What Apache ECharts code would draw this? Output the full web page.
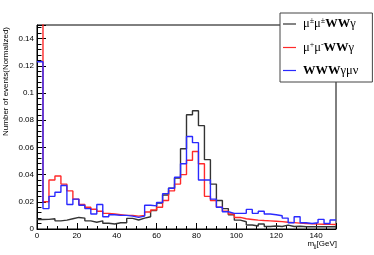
<!DOCTYPE html>
<html>
<head>
<meta charset="utf-8">
<script src="https://cdn.jsdelivr.net/npm/echarts@6/dist/echarts.min.js"></script>
<style>
html, body { margin: 0; padding: 0; background: #fff; }
#chart { width: 374px; height: 255px; }
</style>
</head>
<body>
<div id="chart"></div>
<script>
// bin edges of m_jj [GeV], 3 GeV bins
var binEdges = [0, 3, 6, 9, 12, 15, 18, 21, 24, 27, 30, 33, 36, 39, 42, 45, 48, 51, 54, 57,
  60, 63, 66, 69, 72, 75, 78, 81, 84, 87, 90, 93, 96, 99, 102, 105, 108, 111, 114, 117,
  120, 123, 126, 129, 132, 135, 138, 141, 144, 147, 150]

var xTicks = [0, 20, 40, 60, 80, 100, 120, 140]
var yTicks = [0, 0.02, 0.04, 0.06, 0.08, 0.1, 0.12, 0.14]

// mu+- mu+- WW gamma
var ssWWa = [0.007, 0.0071, 0.0075, 0.006, 0.0065, 0.0075, 0.0085, 0.008, 0.006, 0.005,
  0.006, 0.0042, 0.0037, 0.0046, 0.0046, 0.0078, 0.0066, 0.008, 0.009, 0.0135,
  0.019, 0.025, 0.03, 0.0375, 0.059, 0.084, 0.087, 0.076, 0.051, 0.033,
  0.021, 0.015, 0.0105, 0.0065, 0.0053, 0.0029, 0.0022, 0.0037, 0.0018, 0.0022,
  0.0018, 0.0029, 0.0018, 0.002, 0.0017, 0.0017, 0.0017, 0.0017, 0.0017, 0.0017]

// mu+ mu- WW gamma
var osWWa = [0.2, 0.02, 0.036, 0.039, 0.033, 0.028, 0.022, 0.018, 0.016, 0.0145,
  0.013, 0.0115, 0.011, 0.0105, 0.01, 0.01, 0.0095, 0.01, 0.0125, 0.014,
  0.016, 0.021, 0.028, 0.033, 0.04, 0.0505, 0.057, 0.048, 0.024, 0.021,
  0.016, 0.013, 0.011, 0.0085, 0.0075, 0.007, 0.0065, 0.0062, 0.006, 0.0057,
  0.0054, 0.005, 0.0047, 0.0043, 0.004, 0.0038, 0.0036, 0.0035, 0.0034, 0.0033]

// WWW gamma mu nu
var wwwamv = [0.123, 0.015, 0.024, 0.027, 0.032, 0.018, 0.022, 0.0175, 0.015, 0.011,
  0.018, 0.009, 0.0105, 0.01, 0.01, 0.0095, 0.0085, 0.0095, 0.0175, 0.017,
  0.0195, 0.026, 0.03, 0.038, 0.048, 0.068, 0.0635, 0.036, 0.036, 0.022,
  0.016, 0.0127, 0.0115, 0.0115, 0.0115, 0.0144, 0.0115, 0.013, 0.011, 0.0105,
  0.0097, 0.008, 0.0046, 0.009, 0.0046, 0.004, 0.0046, 0.0071, 0.004, 0.0066]

var names = ['μ±μ±WWγ', 'μ+μ-WWγ', 'WWWγμν']
var richNames = {
  'μ±μ±WWγ': '{n|μ}{s|±}{n|μ}{s|±}{b|WW}{n|γ}',
  'μ+μ-WWγ': '{n|μ}{s|+}{n|μ}{s|-}{b|WW}{n|γ}',
  'WWWγμν': '{b|WWW}{n|γμν}'
}

function toSteps (vals) {
  var pts = []
  for (var i = 0; i < vals.length; i++) {
    pts.push([binEdges[i], vals[i]])
  }
  pts.push([binEdges[vals.length], vals[vals.length - 1]])
  return pts
}

function histSeries (name, vals, color) {
  return {
    name: name,
    type: 'line',
    step: 'end',
    symbol: 'none',
    clip: true,
    data: toSteps(vals),
    lineStyle: { color: color, width: 1.4 },
    itemStyle: { color: color }
  }
}

var chart = echarts.init(document.getElementById('chart'))
var labelFont = { fontFamily: 'Liberation Sans', fontSize: 8, color: '#000' }

chart.setOption({
  animation: false,
  backgroundColor: '#fff',
  grid: {
    left: 37, right: 38, top: 25, bottom: 26,
    show: true, borderColor: '#000', borderWidth: 1, backgroundColor: 'transparent'
  },
  xAxis: {
    type: 'value',
    min: 0,
    max: 150,
    interval: xTicks[1] - xTicks[0],
    axisLine: { show: true, onZero: false, lineStyle: { color: '#000', width: 1 } },
    axisTick: { show: true, inside: true, length: 6, lineStyle: { color: '#000' } },
    minorTick: { show: true, splitNumber: 4, length: 3, lineStyle: { color: '#000' } },
    splitLine: { show: false },
    axisLabel: Object.assign({ margin: 3, showMaxLabel: false }, labelFont)
  },
  yAxis: {
    type: 'value',
    min: 0,
    max: 0.15,
    interval: yTicks[1] - yTicks[0],
    axisLine: { show: true, lineStyle: { color: '#000', width: 1 } },
    axisTick: { show: true, inside: true, length: 9, lineStyle: { color: '#000' } },
    minorTick: { show: true, splitNumber: 5, length: 4.5, lineStyle: { color: '#000' } },
    splitLine: { show: false },
    axisLabel: Object.assign({
      margin: 3,
      showMaxLabel: false,
      formatter: function (v) { return String(+v.toFixed(2)) }
    }, labelFont)
  },
  legend: {
    orient: 'vertical',
    left: 280,
    top: 13,
    padding: [4, 14, 5, 3],
    itemGap: 10,
    itemWidth: 13,
    itemHeight: 1.2,
    icon: 'rect',
    lineStyle: { width: 1.2 },
    backgroundColor: '#fff',
    borderColor: '#444',
    borderWidth: 1,
    data: names,
    formatter: function (name) { return richNames[name] },
    textStyle: {
      padding: [0, 0, 0, 2],
      rich: {
        n: { fontFamily: 'Liberation Serif', fontSize: 12.5, color: '#000', lineHeight: 14 },
        b: { fontFamily: 'Liberation Serif', fontSize: 12.5, fontWeight: 'bold', color: '#000', lineHeight: 14 },
        s: { fontFamily: 'Liberation Serif', fontSize: 8, color: '#000', lineHeight: 14, verticalAlign: 'top' }
      }
    }
  },
  graphic: [
    {
      type: 'text',
      x: 6,
      y: 27,
      rotation: Math.PI / 2,
      style: {
        text: 'Number of events(Normalized)',
        font: '8px "Liberation Sans"',
        fill: '#000',
        align: 'right',
        verticalAlign: 'middle'
      }
    },
    {
      type: 'text',
      x: 337,
      y: 244,
      style: {
        text: '{n|m}{s|jj}{n|[GeV]}',
        align: 'right',
        verticalAlign: 'middle',
        rich: {
          n: { fontFamily: 'Liberation Sans', fontSize: 8, fill: '#000', lineHeight: 10 },
          s: { fontFamily: 'Liberation Sans', fontSize: 5.5, fill: '#000', lineHeight: 10, verticalAlign: 'bottom' }
        }
      }
    }
  ],
  series: [
    histSeries(names[0], ssWWa, '#333333'),
    histSeries(names[1], osWWa, '#ff2a2a'),
    histSeries(names[2], wwwamv, '#2a2aff')
  ]
})
</script>
</body>
</html>
